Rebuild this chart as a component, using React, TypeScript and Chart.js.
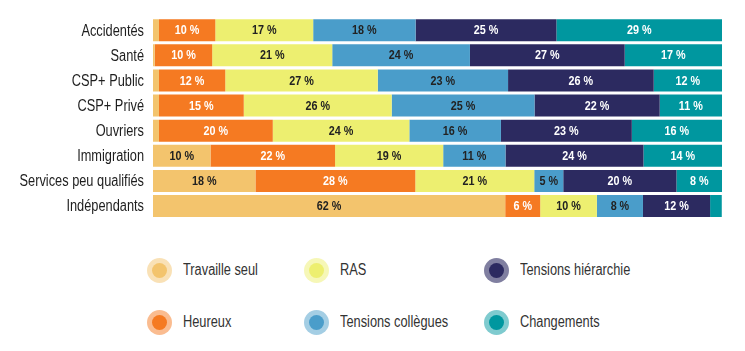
import React, { useEffect, useRef } from "react";
import { Chart, registerables } from "chart.js";

Chart.register(...registerables);

const categories = [
  "Accidentés",
  "Santé",
  "CSP+ Public",
  "CSP+ Privé",
  "Ouvriers",
  "Immigration",
  "Services peu qualifiés",
  "Indépendants",
];

const travailleSeul = [1.05, 0.3, 1.05, 1.05, 1.05, 10.1, 18.0, 61.9];
const heureux = [9.9, 10.1, 11.65, 14.9, 20.0, 21.9, 28.1, 6.15];
const ras = [17.2, 21.1, 26.8, 26.0, 24.0, 19.0, 20.9, 9.96];
const tensionsCollegues = [18.0, 24.2, 22.9, 25.1, 16.1, 10.95, 5.1, 8.1];
const tensionsHierarchie = [24.75, 27.2, 25.6, 22.0, 23.0, 24.25, 19.9, 11.8];
const changements = [29.1, 17.1, 12.0, 10.95, 15.85, 13.8, 8.0, 2.05];

const seriesNames = [
  "Travaille seul",
  "Heureux",
  "RAS",
  "Tensions collègues",
  "Tensions hiérarchie",
  "Changements",
];
const seriesData = [travailleSeul, heureux, ras, tensionsCollegues, tensionsHierarchie, changements];
const seriesColors = ["#F3C46D", "#F57A22", "#EDEF70", "#4A9DCA", "#2C2A60", "#00979F"];
const haloColors = [
  "rgba(243,196,109,0.5)",
  "rgba(245,122,34,0.5)",
  "rgba(237,239,112,0.5)",
  "rgba(74,157,202,0.5)",
  "rgba(44,42,96,0.6)",
  "rgba(0,151,159,0.5)",
];
const labelColors = ["#222222", "#ffffff", "#222222", "#222222", "#ffffff", "#ffffff"];

const FONT = "'Liberation Sans', Arial, sans-serif";
const NARROW = 0.8;

// legend layout: [series index, column, row]
const legendOrder = [
  [0, 0, 0],
  [2, 1, 0],
  [4, 2, 0],
  [1, 0, 1],
  [3, 1, 1],
  [5, 2, 1],
];
const legendCols = [159, 316, 496];
const legendRows = [270, 322];

const labelPlugin = {
  id: "segLabels",
  afterDatasetsDraw(chart: any) {
    const ctx = chart.ctx;
    ctx.save();
    ctx.font = `bold 13px ${FONT}`;
    ctx.textAlign = "center";
    ctx.textBaseline = "middle";
    chart.data.datasets.forEach((ds: any, di: number) => {
      const meta = chart.getDatasetMeta(di);
      meta.data.forEach((bar: any, i: number) => {
        const v = ds.data[i];
        if (v < 3) return;
        const cx = (bar.x + bar.base) / 2;
        ctx.save();
        ctx.translate(cx, bar.y + 0.5);
        ctx.scale(0.83, 1);
        ctx.fillStyle = labelColors[di];
        ctx.fillText(`${Math.round(v)} %`, 0, 0);
        ctx.restore();
      });
    });
    // category labels (condensed)
    const yScale = chart.scales.y;
    ctx.font = `16px ${FONT}`;
    ctx.textAlign = "right";
    ctx.fillStyle = "#1e1e1e";
    chart.data.labels.forEach((lab: string, i: number) => {
      const y = yScale.getPixelForTick(i);
      ctx.save();
      ctx.translate(chart.chartArea.left - 9, y + 1);
      ctx.scale(NARROW, 1);
      ctx.fillText(lab, 0, 0);
      ctx.restore();
    });
    ctx.restore();
  },
};

export default function App() {
  const ref = useRef<HTMLCanvasElement | null>(null);
  useEffect(() => {
    document.body.style.margin = "0";
    if (!ref.current) return;
    const chart = new Chart(ref.current, {
      type: "bar",
      data: {
        labels: categories,
        datasets: seriesNames.map((name, i) => ({
          label: name,
          data: seriesData[i],
          backgroundColor: seriesColors[i],
          borderWidth: 0,
          barPercentage: 0.876,
          categoryPercentage: 1,
        })),
      },
      options: {
        indexAxis: "y",
        animation: false,
        responsive: false,
        maintainAspectRatio: false,
        layout: { padding: { left: 0, right: 23, top: 17.7, bottom: 16.4 } },
        plugins: {
          legend: { display: false },
          tooltip: { enabled: false },
        },
        scales: {
          x: { stacked: true, min: 0, max: 100, display: false },
          y: {
            stacked: true,
            grid: { display: false, drawTicks: false },
            border: { display: false },
            ticks: { display: false },
            afterFit(scale: any) {
              scale.width = 153;
            },
          },
        },
      },
      plugins: [labelPlugin],
    });
    return () => chart.destroy();
  }, []);

  return (
    <div style={{ position: "relative", width: 745, height: 351, background: "#fff", overflow: "hidden" }}>
      <canvas ref={ref} width={745} height={235} style={{ display: "block" }} />
      {legendOrder.map(([si, c, r]) => (
        <div key={si}>
          <div
            style={{
              position: "absolute",
              left: legendCols[c] - 12.5,
              top: legendRows[r] - 12.5,
              width: 25,
              height: 25,
              borderRadius: "50%",
              background: haloColors[si],
            }}
          />
          <div
            style={{
              position: "absolute",
              left: legendCols[c] - 7.5,
              top: legendRows[r] - 7.5,
              width: 15,
              height: 15,
              borderRadius: "50%",
              background: seriesColors[si],
            }}
          />
          <div
            style={{
              position: "absolute",
              left: legendCols[c] + 24,
              top: legendRows[r] - 11,
              height: 22,
              lineHeight: "22px",
              fontFamily: FONT,
              fontSize: 16,
              color: "#333333",
              whiteSpace: "nowrap",
              transform: "scaleX(0.8)",
              transformOrigin: "left center",
            }}
          >
            {seriesNames[si]}
          </div>
        </div>
      ))}
    </div>
  );
}
